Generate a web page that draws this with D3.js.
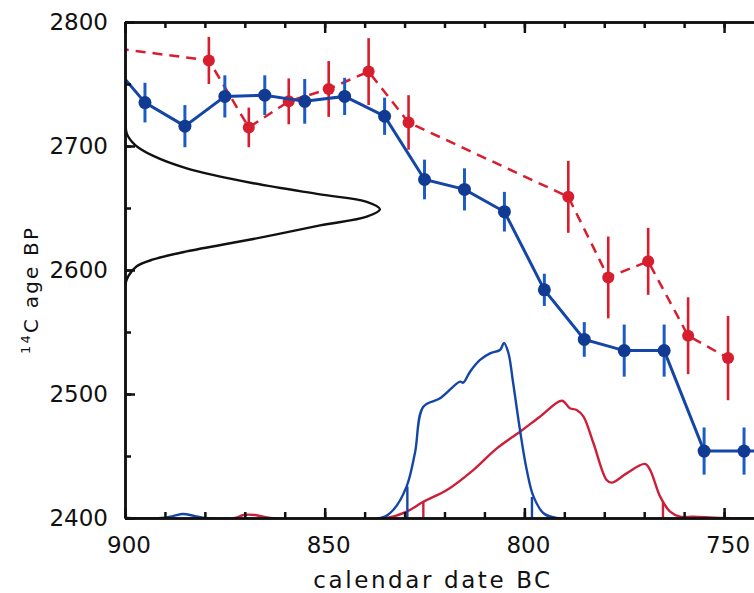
<!DOCTYPE html>
<html>
<head>
<meta charset="utf-8">
<script src="https://cdn.jsdelivr.net/npm/d3@7"></script>
<style>
  body { margin: 0; background: #fff; }
  .tick text { font-family: "DejaVu Sans", sans-serif; font-size: 23px; fill: #111; }
  .axis-label { font-family: "DejaVu Sans", sans-serif; fill: #111; }
</style>
</head>
<body>
<div id="chart"></div>
<script>
// Wiggle-matched sequence (blue, solid) : calendar date BC / 14C age BP / 1 sigma
const blueDates  = [905, 895, 885, 875, 865, 855, 845, 835, 825, 815, 805, 795, 785, 775, 765, 755, 745, 735];
const blueAges   = [2773, 2735, 2716, 2740, 2741, 2736, 2740, 2724, 2673, 2665, 2647, 2584, 2544, 2535, 2535, 2454, 2454, 2454];
const blueErrors = [17, 16, 17, 17, 16, 18, 15, 15, 16, 17, 16, 13, 14, 21, 21, 19, 19, 19];

// Second sequence (red, dashed)
const redDates  = [910, 879, 869, 859, 849, 839, 829, 789, 779, 769, 759, 749];
const redAges   = [2782, 2769, 2715, 2736, 2746, 2760, 2719, 2659, 2594, 2607, 2547, 2529];
const redErrors = [20, 19, 16, 18.5, 22.5, 27, 22, 29, 33, 27, 31, 34];

// Measured 14C age distribution (black, on the age axis), relative probability
const measAges = [2760, 2720, 2710, 2701, 2692, 2682, 2670, 2661, 2655, 2649, 2643, 2636, 2625, 2615, 2608.5, 2603, 2595, 2587, 2560];
const measProb = [0, 0.002, 0.007, 0.039, 0.111, 0.242, 0.503, 0.765, 0.948, 1.0, 0.948, 0.765, 0.503, 0.242, 0.111, 0.046, 0.013, 0, 0];

// Calibrated date distributions, relative probability
const blueProbDates = [900, 891, 888, 885.5, 882.5, 880, 836, 832.8, 829.5, 827.4, 825.3, 821.1, 816.1, 815.3, 813.6, 811.1, 808.6, 806.1, 805.1, 804.0, 802.8, 801.1, 799.4, 797.7, 795.2, 792, 740];
const blueProb      = [0, 0, 0.011, 0.023, 0.011, 0, 0, 0.047, 0.179, 0.371, 0.636, 0.684, 0.779, 0.773, 0.836, 0.903, 0.941, 0.96, 1.0, 0.943, 0.77, 0.503, 0.274, 0.122, 0.027, 0, 0];
const blueRangeDates = [829.3, 798.1];
const blueRangeProb  = [0.18, 0.12];

const redProbDates = [900, 872.5, 870.4, 867.4, 863.7, 834.5, 829.5, 825.3, 819.4, 812.8, 806.9, 801.1, 796.1, 790.6, 788.6, 786.9, 785.2, 782.7, 779.4, 778.1, 774.4, 769.8, 768.5, 766.0, 763.5, 761.0, 757.7, 751, 740];
const redProb      = [0, 0, 0.017, 0.017, 0, 0, 0.036, 0.093, 0.16, 0.274, 0.398, 0.493, 0.579, 0.67, 0.627, 0.617, 0.579, 0.427, 0.217, 0.202, 0.255, 0.309, 0.274, 0.122, 0.036, 0.007, 0.007, 0, 0];
const redRangeDates = [825.3, 765.3];
const redRangeProb  = [0.093, 0.093];

// Axis ticks
const xMajorTicks = [900, 850, 800, 750];
const yMajorTicks = [2400, 2500, 2600, 2700, 2800];

const blueLine = "#1446a8", blueDot = "#113a92", blueBar = "#1a5cc4";
const redLine = "#d61e2e";

class CalibrationChart {
  constructor(_config) {
    this.config = {
      parentElement: _config.parentElement,
      containerWidth: _config.containerWidth,
      containerHeight: _config.containerHeight,
      margin: { top: 22, right: -10, bottom: 75, left: 125 },
    };
    this.initVis();
  }

  initVis() {
    let vis = this;

    vis.width = vis.config.containerWidth - vis.config.margin.left - vis.config.margin.right;
    vis.height = vis.config.containerHeight - vis.config.margin.top - vis.config.margin.bottom;

    vis.xScale = d3.scaleLinear().domain([900, 740]).range([0, vis.width]);
    vis.yScale = d3.scaleLinear().domain([2400, 2800]).range([vis.height, 0]);
    // scales for the two kinds of probability curves
    vis.dateProbScale = d3.scaleLinear().domain([0, 1]).range([vis.height, vis.height - 175]);
    vis.ageProbScale = d3.scaleLinear().domain([0, 1]).range([0, 255]);

    vis.svg = d3.select(vis.config.parentElement)
      .append("svg")
      .attr("width", vis.config.containerWidth)
      .attr("height", vis.config.containerHeight);

    vis.chart = vis.svg.append("g")
      .attr("transform", `translate(${vis.config.margin.left},${vis.config.margin.top})`);

    vis.svg.append("clipPath").attr("id", "plot-clip")
      .append("rect")
      .attr("width", vis.width)
      .attr("height", vis.height);

    vis.plot = vis.chart.append("g").attr("clip-path", "url(#plot-clip)");

    vis.renderVis();
  }

  renderVis() {
    let vis = this;
    const x = vis.xScale, y = vis.yScale;

    // measured age distribution along the y axis
    const ageLine = d3.line()
      .x(d => vis.ageProbScale(d[1]))
      .y(d => y(d[0]))
      .curve(d3.curveCatmullRom.alpha(0.5));
    vis.plot.append("path")
      .datum(d3.zip(measAges, measProb))
      .attr("d", ageLine)
      .attr("fill", "none")
      .attr("stroke", "#111")
      .attr("stroke-width", 2.4);

    // calibrated distributions
    const probLine = d3.line()
      .x(d => x(d[0]))
      .y(d => vis.dateProbScale(d[1]))
      .curve(d3.curveCatmullRom.alpha(0.5));

    const drawDist = (dates, probs, rDates, rProbs, colour) => {
      vis.plot.append("path")
        .datum(d3.zip(dates, probs))
        .attr("d", probLine)
        .attr("fill", "none")
        .attr("stroke", colour)
        .attr("stroke-width", 2.4);
      vis.plot.selectAll(null)
        .data(d3.zip(rDates, rProbs))
        .join("line")
        .attr("x1", d => x(d[0])).attr("x2", d => x(d[0]))
        .attr("y1", vis.height)
        .attr("y2", d => vis.dateProbScale(d[1]))
        .attr("stroke", colour)
        .attr("stroke-width", 2.4);
    };
    drawDist(redProbDates, redProb, redRangeDates, redRangeProb, "#cc2038");
    drawDist(blueProbDates, blueProb, blueRangeDates, blueRangeProb, blueLine);

    // sequences
    const seqLine = d3.line().x(d => x(d[0])).y(d => y(d[1]));

    const drawSeries = (dates, ages, errors, opts) => {
      const data = d3.zip(dates, ages, errors);
      vis.plot.append("path")
        .datum(data)
        .attr("d", seqLine)
        .attr("fill", "none")
        .attr("stroke", opts.line)
        .attr("stroke-width", opts.lineWidth)
        .attr("stroke-dasharray", opts.dash);
      vis.plot.selectAll(null)
        .data(data)
        .join("line")
        .attr("x1", d => x(d[0])).attr("x2", d => x(d[0]))
        .attr("y1", d => y(d[1] - d[2]))
        .attr("y2", d => y(d[1] + d[2]))
        .attr("stroke", opts.bar)
        .attr("stroke-width", opts.barWidth);
      vis.plot.selectAll(null)
        .data(data)
        .join("circle")
        .attr("cx", d => x(d[0]))
        .attr("cy", d => y(d[1]))
        .attr("r", opts.r)
        .attr("fill", opts.dot);
    };

    drawSeries(redDates, redAges, redErrors,
      { line: redLine, lineWidth: 2.5, dash: "10,7", bar: redLine, barWidth: 2.6, dot: redLine, r: 6 });
    drawSeries(blueDates, blueAges, blueErrors,
      { line: blueLine, lineWidth: 3, dash: null, bar: blueBar, barWidth: 3, dot: blueDot, r: 6.5 });

    // axes: minor ticks first, then major ticks with labels
    const xMinor = d3.range(900, 739, -10);
    const yMinor = d3.range(2400, 2801, 50);

    const styleAxis = g => {
      g.selectAll("path, line").attr("stroke", "#111").attr("stroke-width", 2.5);
    };

    vis.chart.append("g").call(d3.axisLeft(y).tickValues(yMinor).tickSize(-6).tickSizeOuter(0).tickFormat("")).call(styleAxis);
    vis.chart.append("g").call(d3.axisLeft(y).tickValues(yMajorTicks).tickSize(-10).tickSizeOuter(0).tickPadding(17).tickFormat(d3.format("d"))).call(styleAxis);

    vis.chart.append("g").attr("transform", `translate(${vis.width},0)`)
      .call(d3.axisRight(y).tickValues(yMinor).tickSize(-6).tickSizeOuter(0).tickFormat("")).call(styleAxis);
    vis.chart.append("g").attr("transform", `translate(${vis.width},0)`)
      .call(d3.axisRight(y).tickValues(yMajorTicks).tickSize(-10).tickSizeOuter(0).tickFormat("")).call(styleAxis);

    vis.chart.append("g").call(d3.axisTop(x).tickValues(xMinor).tickSize(-6).tickSizeOuter(0).tickFormat("")).call(styleAxis);
    vis.chart.append("g").call(d3.axisTop(x).tickValues(xMajorTicks).tickSize(-11).tickSizeOuter(0).tickFormat("")).call(styleAxis);

    vis.chart.append("g").attr("transform", `translate(0,${vis.height})`)
      .call(d3.axisBottom(x).tickValues(xMinor).tickSize(-6).tickSizeOuter(0).tickFormat("")).call(styleAxis);
    const xAxisGroup = vis.chart.append("g").attr("transform", `translate(0,${vis.height})`)
      .call(d3.axisBottom(x).tickValues(xMajorTicks).tickSize(-10).tickSizeOuter(0).tickPadding(18.5).tickFormat(d3.format("d"))).call(styleAxis);
    xAxisGroup.selectAll("text").attr("dx", 3.5);

    vis.chart.selectAll(".domain").attr("stroke-width", 2.5);

    // axis labels
    vis.chart.append("text")
      .attr("class", "axis-label")
      .attr("x", 308)
      .attr("y", vis.height + 70)
      .attr("text-anchor", "middle")
      .style("font-size", "23px")
      .style("letter-spacing", "2.6px")
      .text("calendar date BC");

    const yLabel = vis.svg.append("text")
      .attr("class", "axis-label")
      .attr("transform", "translate(38,354) rotate(-90)")
      .attr("text-anchor", "start")
      .style("font-size", "20px")
      .style("letter-spacing", "2.2px");
    yLabel.append("tspan").attr("dy", -8).style("font-size", "13px").text("14");
    yLabel.append("tspan").attr("dy", 8).text("C age BP");
  }
}

new CalibrationChart({ parentElement: "#chart", containerWidth: 754, containerHeight: 593 });
</script>
</body>
</html>
